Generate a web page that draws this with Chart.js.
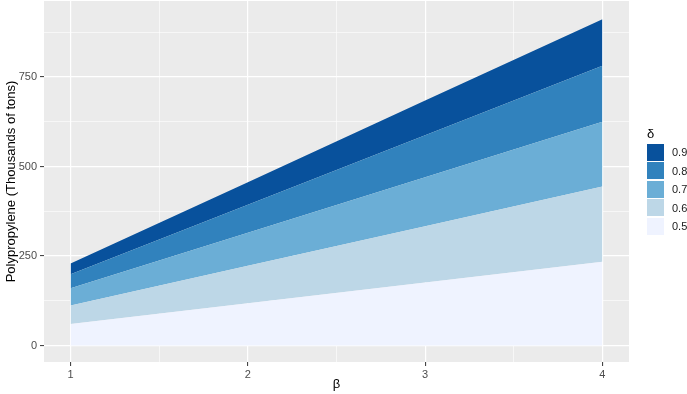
<!DOCTYPE html>
<html>
<head>
<meta charset="utf-8">
<script src="https://cdn.jsdelivr.net/npm/chart.js@4"></script>
<style>
  body { margin: 0; background: #fff; }
  #wrap { position: relative; width: 687px; height: 394px; }
  #legend { position: absolute; left: 647px; top: 124px; font-family: "Liberation Sans", Arial, sans-serif; }
  #legend .ttl { font-size: 13px; color: #000; height: 19px; line-height: 19px; }
  #legend .row { display: flex; align-items: center; height: 18.5px; }
  #legend .key { width: 17px; height: 17px; margin-right: 8px; }
  #legend .lab { font-size: 11px; color: #1a1a1a; }
</style>
</head>
<body>
<div id="wrap">
  <canvas id="grafico" width="687" height="394"></canvas>
  <div id="legend"></div>
</div>
<script>
// valores (espessura de cada faixa, empilhadas)
const beta = [1, 2, 3, 4];
const niveis = ['0.5', '0.6', '0.7', '0.8', '0.9'];
const faixa05 = [60, 118, 176, 234];
const faixa06 = [52, 105, 157, 210];
const faixa07 = [48, 92, 137, 181];
const faixa08 = [39, 78, 117, 156];
const faixa09 = [30, 63, 97, 130];
const cores = ['#EFF3FF', '#BDD7E7', '#6BAED6', '#3182BD', '#08519C'];
const ticksX = [1, 1.5, 2, 2.5, 3, 3.5, 4];
const ticksY = [0, 125, 250, 375, 500, 625, 750, 875];
const majorX = [1, 2, 3, 4];
const majorY = [0, 250, 500, 750];

const faixas = [faixa05, faixa06, faixa07, faixa08, faixa09];

const datasets = faixas.map((f, i) => ({
  label: niveis[i],
  data: f.map((v, j) => ({ x: beta[j], y: v })),
  backgroundColor: cores[i],
  borderWidth: 0,
  pointRadius: 0,
  fill: i === 0 ? 'origin' : '-1',
  tension: 0
}));

// fundo cinza do painel
const fundoPainel = {
  id: 'fundoPainel',
  beforeDraw(chart) {
    const a = chart.chartArea;
    const ctx = chart.ctx;
    ctx.save();
    ctx.fillStyle = '#EBEBEB';
    ctx.fillRect(a.left, a.top, a.right - a.left, a.bottom - a.top);
    ctx.restore();
  }
};

const fonte = '"Liberation Sans", Arial, sans-serif';

const ctx = document.getElementById('grafico').getContext('2d');
const chart = new Chart(ctx, {
  type: 'line',
  data: { datasets: datasets },
  options: {
    responsive: false,
    animation: false,
    layout: { padding: { top: 1, right: 58, left: 0, bottom: 0 } },
    plugins: { legend: { display: false }, tooltip: { enabled: false } },
    scales: {
      x: {
        type: 'linear',
        min: 0.85,
        max: 4.15,
        afterBuildTicks: (s) => { s.ticks = ticksX.map(v => ({ value: v })); },
        afterFit: (s) => { s.height = 32; s.paddingLeft = 0; s.paddingRight = 0; },
        border: { display: false },
        grid: {
          color: '#FFFFFF',
          lineWidth: (c) => majorX.includes(c.tick && c.tick.value) ? 1.2 : 0.6,
          tickColor: (c) => majorX.includes(c.tick && c.tick.value) ? '#333333' : 'rgba(0,0,0,0)',
          tickWidth: 1,
          tickLength: 4
        },
        ticks: {
          autoSkip: false,
          maxRotation: 0,
          padding: 2,
          color: '#4D4D4D',
          font: { family: fonte, size: 11 },
          callback: (v) => majorX.includes(v) ? String(v) : ''
        },
        title: {
          display: true,
          text: 'β',
          color: '#000',
          font: { family: fonte, size: 13 },
          padding: { top: 0, bottom: 2 }
        }
      },
      y: {
        stacked: true,
        min: -45.8,
        max: 962,
        afterBuildTicks: (s) => { s.ticks = ticksY.map(v => ({ value: v })); },
        afterFit: (s) => { s.width = 44; s.paddingTop = 0; s.paddingBottom = 0; },
        border: { display: false },
        grid: {
          color: '#FFFFFF',
          lineWidth: (c) => majorY.includes(c.tick && c.tick.value) ? 1.2 : 0.6,
          tickColor: (c) => majorY.includes(c.tick && c.tick.value) ? '#333333' : 'rgba(0,0,0,0)',
          tickWidth: 1,
          tickLength: 4
        },
        ticks: {
          autoSkip: false,
          padding: 3,
          color: '#4D4D4D',
          font: { family: fonte, size: 11 },
          callback: (v) => majorY.includes(v) ? String(v) : ''
        },
        title: {
          display: true,
          text: 'Polypropylene (Thousands of tons)',
          color: '#000',
          font: { family: fonte, size: 13 },
          padding: { top: 4, bottom: 0 }
        }
      }
    }
  },
  plugins: [fundoPainel]
});

// legenda (0.9 no topo)
const legend = document.getElementById('legend');
legend.innerHTML = '<div class="ttl">δ</div>';
for (let i = niveis.length - 1; i >= 0; i--) {
  const row = document.createElement('div');
  row.className = 'row';
  row.innerHTML = '<div class="key" style="background:' + cores[i] + '"></div><span class="lab">' + niveis[i] + '</span>';
  legend.appendChild(row);
}
</script>
</body>
</html>
